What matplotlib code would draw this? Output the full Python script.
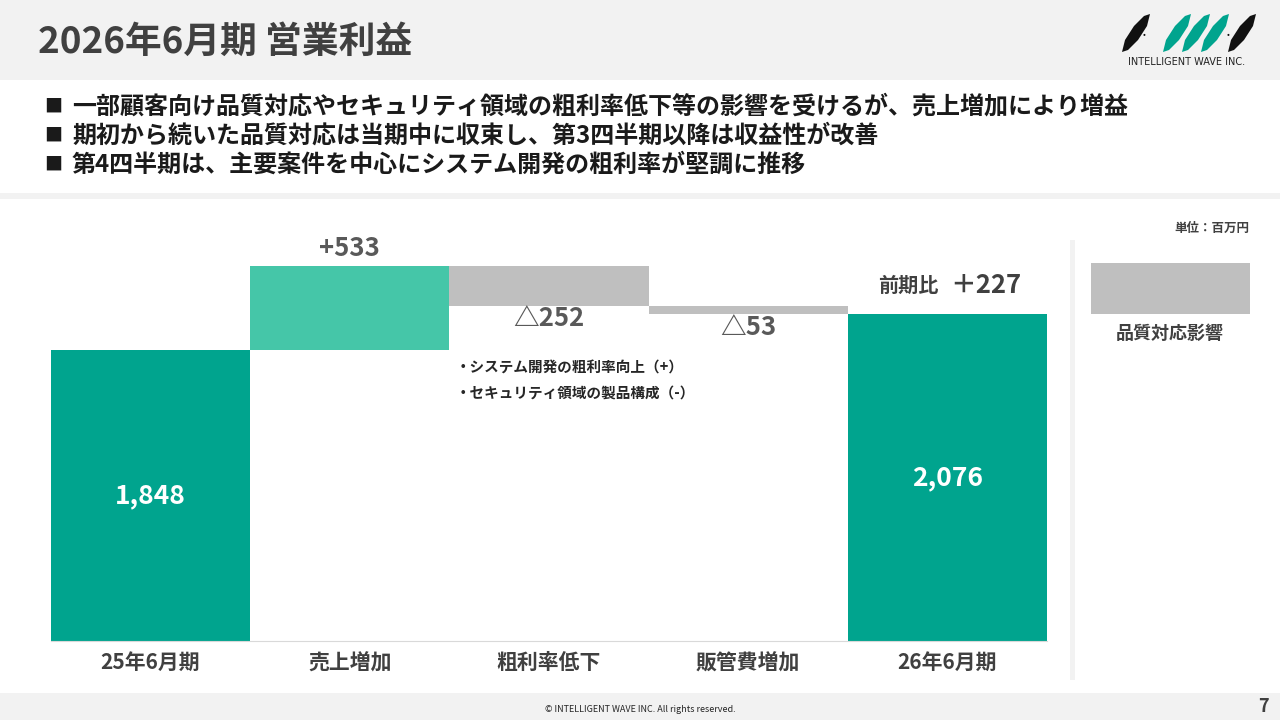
import numpy as np
import matplotlib.pyplot as plt
from matplotlib.patches import Rectangle, Polygon

plt.rcParams['font.family'] = ['Noto Sans CJK JP', 'DejaVu Sans']

# データ（単位：百万円）
categories = ['25年6月期', '売上増加', '粗利率低下', '販管費増加', '26年6月期']
start_value = 1848
deltas = [533, -252, -53]
end_value = 2076
delta_labels = ['+533', '△252', '△53']
total_labels = ['1,848', '2,076']
yoy_label = '＋227'

bullets = [
    '一部顧客向け品質対応やセキュリティ領域の粗利率低下等の影響を受けるが、売上増加により増益',
    '期初から続いた品質対応は当期中に収束し、第3四半期以降は収益性が改善',
    '第4四半期は、主要案件を中心にシステム開発の粗利率が堅調に推移',
]
notes = ['・システム開発の粗利率向上（+）', '・セキュリティ領域の製品構成（-）']

c_total = '#00A48E'
c_up = '#45C6A8'
c_down = '#BFBFBF'
c_text = '#404040'
c_val = '#595959'

W, H = 1280, 720
fig = plt.figure(figsize=(12.8, 7.2), dpi=100)
fig.patch.set_facecolor('white')


def fx(x):
    return x / W


def fy(y):
    return 1 - y / H


def band(x0, y0, x1, y1, color):
    fig.add_artist(Rectangle((fx(x0), fy(y1)), fx(x1) - fx(x0), fy(y0) - fy(y1),
                             transform=fig.transFigure, facecolor=color,
                             edgecolor='none', zorder=0))


# 背景の帯
band(0, 0, W, 80, '#F2F2F2')
band(0, 193, W, 199, '#F2F2F2')
band(0, 693, W, H, '#F2F2F2')
band(1070, 240, 1075, 680, '#F2F2F2')

# タイトル
fig.text(fx(38), fy(42), '2026年6月期 営業利益', fontsize=26.5, fontweight='bold',
         color=c_text, va='center', ha='left')


# ロゴ（簡易）
def leaf(x, y, color):
    # 下端 (x, y+38) から上端 (x+28, y) へ伸びる葉形
    pts = [(x, y + 38), (x + 3, y + 26), (x + 12, y + 12), (x + 22, y + 2),
           (x + 28, y), (x + 25, y + 12), (x + 16, y + 26), (x + 6, y + 36)]
    fig.add_artist(Polygon([(fx(px), fy(py)) for px, py in pts], closed=True,
                           transform=fig.transFigure, facecolor=color,
                           edgecolor='none'))


leaf(1122, 14, '#111111')
for sx in [1163, 1182, 1201]:
    leaf(sx, 14, c_total)
leaf(1228, 14, '#111111')
for dx in [1144, 1228]:
    fig.text(fx(dx), fy(34), '•', fontsize=6, color='#111111', ha='center', va='center')
fig.text(fx(1187), fy(62), 'INTELLIGENT WAVE INC.', fontsize=7, color='#222222',
         ha='center', va='center', family='Liberation Sans Narrow')

# 箇条書き
for i, b in enumerate(bullets):
    yy = 107 + i * 29
    fig.text(fx(44), fy(yy), '■', fontsize=13, color='#1a1a1a', va='center', ha='left')
    fig.text(fx(72), fy(yy), b, fontsize=17.3, fontweight='bold', color='#1a1a1a',
             va='center', ha='left')

# ウォーターフォール
ax = fig.add_axes([fx(51), fy(641), fx(1047) - fx(51), fy(200) - fy(641)])
x = np.arange(len(categories))
levels = np.cumsum([start_value] + deltas)
bottoms = [0]
heights = [start_value]
colors = [c_total]
for i, d in enumerate(deltas):
    prev = levels[i]
    bottoms.append(min(prev, prev + d))
    heights.append(abs(d))
    colors.append(c_up if d > 0 else c_down)
bottoms.append(0)
heights.append(end_value)
colors.append(c_total)

ax.bar(x, heights, bottom=bottoms, width=1.0, color=colors, edgecolor='none')
ax.set_xlim(-0.5, len(categories) - 0.5)
ax.set_ylim(0, 2800)
for s in ['top', 'right', 'left']:
    ax.spines[s].set_visible(False)
ax.spines['bottom'].set_color('#D9D9D9')
ax.set_yticks([])
ax.set_xticks(x)
ax.set_xticklabels(categories, fontsize=15, fontweight='bold', color=c_text)
ax.tick_params(axis='x', length=0, pad=8)

# 合計値ラベル
ax.text(0, start_value / 2, total_labels[0], ha='center', va='center',
        fontsize=19, fontweight='bold', color='white')
ax.text(4, end_value / 2, total_labels[1], ha='center', va='center',
        fontsize=19, fontweight='bold', color='white')

# 増減ラベル
for i, d in enumerate(deltas):
    xi = i + 1
    if d > 0:
        ax.annotate(delta_labels[i], (xi, bottoms[xi] + heights[xi]), xytext=(0, 17),
                    textcoords='offset pixels', ha='center', va='center',
                    fontsize=18.5, fontweight='bold', color=c_val)
    else:
        ax.annotate(delta_labels[i], (xi, bottoms[xi]), xytext=(0, -13),
                    textcoords='offset pixels', ha='center', va='center',
                    fontsize=18.5, fontweight='bold', color=c_val)

ax.annotate('前期比', (4, end_value), xytext=(-39, 29), textcoords='offset pixels',
            ha='center', va='center', fontsize=14.5, fontweight='bold', color=c_text)
ax.annotate(yoy_label, (4, end_value), xytext=(38, 29), textcoords='offset pixels',
            ha='center', va='center', fontsize=18.5, fontweight='bold', color=c_text)

for i, n in enumerate(notes):
    fig.text(fx(456), fy(368 + i * 26), n, fontsize=10.5, fontweight='bold',
             color='#262626', va='center', ha='left')

# 凡例・単位
fig.text(fx(1249), fy(228), '単位：百万円', fontsize=9, fontweight='bold',
         color=c_text, ha='right', va='center')
band(1091, 263, 1250, 314, c_down)
fig.text(fx(1170), fy(333), '品質対応影響', fontsize=13, fontweight='bold',
         color=c_text, ha='center', va='center')

# フッター
fig.text(fx(640), fy(709), '© INTELLIGENT WAVE INC. All rights reserved.', fontsize=6.5,
         color='#262626', ha='center', va='center')
fig.text(fx(1263), fy(706), '7', fontsize=13, fontweight='bold', color=c_text,
         ha='center', va='center')

fig.savefig('out.png', dpi=100)
